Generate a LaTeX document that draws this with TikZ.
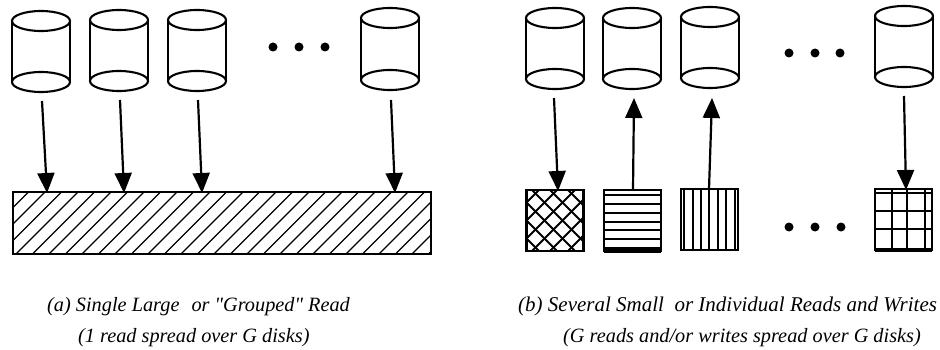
\documentclass[tikz,border=0pt]{standalone}
\usepackage{fontspec}
\setmainfont{Liberation Serif}[Ligatures=TeXOff]
\usetikzlibrary{arrows.meta}
\tikzset{
  x=1pt,y=-1pt,
  diskline/.style={line width=2.1pt,black},
  diskbox/.style={rectangle,inner sep=0pt,outer sep=0pt,minimum width=58pt},
  arr/.style={line width=2.2pt,-{Triangle[length=20pt,width=17pt]},shorten >=-1pt},
  block/.style={draw,line width=2.3pt,rectangle,inner sep=0pt,outer sep=0pt},
  hatch/.style={line width=1.3pt},
  hatchb/.style={line width=1.8pt},
  dot/.style={circle,fill=black,inner sep=0pt,minimum size=9pt},
  capt/.style={font=\itshape\fontsize{20.3}{24}\selectfont,inner sep=0pt,anchor=base west},
  captw/.style={font=\itshape\fontsize{21}{24}\selectfont,inner sep=0pt,anchor=base west},
}
\newcommand{\mydisk}[4]{% name, cx, ytop, ybot
  \node[diskbox,minimum height={#4-#3+20pt}] (#1) at (#2,{(#3+#4)/2}) {};
  \draw[diskline] (#2,#3) ellipse [x radius=29,y radius=10];
  \draw[diskline] (#2,#4) ellipse [x radius=29,y radius=10];
  \draw[diskline] (#2-29,#3) -- (#2-29,#4) (#2+29,#3) -- (#2+29,#4);
}
\begin{document}
\begin{tikzpicture}
\useasboundingbox (0,0) rectangle (940,350);
% hatching
\begin{scope}
  \clip (13,192) rectangle (431,254);
  \foreach \i in {0,...,30}{\draw[hatch] ({\i*16.5-50},254) -- ({\i*16.5+12},192);}
\end{scope}
\begin{scope}
  \clip (527,190) rectangle (583,251);
  \foreach \i in {0,...,7}{
    \draw[hatchb] ({459+\i*18},252) -- ({521+\i*18},190);
    \draw[hatchb] ({460+\i*18},190) -- ({522+\i*18},252);
  }
\end{scope}
\foreach \y in {195,204,213,222,230,239,248}{\draw[hatchb] (604,\y) -- (661,\y);}
\foreach \x in {684,693,701,709,718,726,735}{\draw[hatchb] (\x,189) -- (\x,250);}
\foreach \x in {892,907,925}{\draw[hatchb] (\x,188) -- (\x,250);}
\foreach \y in {193,211,229}{\draw[hatchb] (875,\y) -- (932,\y);}
% disks
\mydisk{a1}{41}{21}{82}
\mydisk{a2}{119}{20}{81}
\mydisk{a3}{197}{20}{81}
\mydisk{a4}{390}{18}{80}
\mydisk{b1}{555}{18}{79}
\mydisk{b2}{632}{18}{79}
\mydisk{b3}{710}{17}{78}
\mydisk{b4}{904}{16}{77}
% blocks
\node[block,minimum width=418pt,minimum height=62pt] (big) at (222,223) {};
\node[block,minimum width=57pt,minimum height=61pt] (s1) at (555,220.5) {};
\node[block,minimum width=57pt,minimum height=61pt] (s2) at (632.5,220.5) {};
\node[block,minimum width=57pt,minimum height=61pt] (s3) at (709.5,219.5) {};
\node[block,minimum width=57pt,minimum height=61pt] (s4) at (903.5,219.5) {};
\draw[line width=3.5pt] (s2.south west) -- (s2.south east);
\draw[line width=3.5pt] (s4.south west) -- (s4.south east);
% arrows
\draw[arr] ([xshift=1pt,yshift=-9pt]a1.south) -- (47,0 |- big.north);
\draw[arr] ([xshift=1pt,yshift=-9pt]a2.south) -- (124,0 |- big.north);
\draw[arr] ([xshift=1pt,yshift=-9pt]a3.south) -- (202,0 |- big.north);
\draw[arr] ([xshift=1pt,yshift=-10pt]a4.south) -- (395,0 |- big.north);
\draw[arr] ([xshift=-1pt,yshift=-9pt]b1.south) -- (558,0 |- s1.north);
\draw[arr] (633,0 |- s2.north) -- (634,99);
\draw[arr] (709,0 |- s3.north) -- (712,99);
\draw[arr] ([xshift=0pt,yshift=-9pt]b4.south) -- (906,0 |- s4.north);
% dots
\foreach \n/\x/\y in {l1/273/47,l2/299/47,l3/325/47,r1/789/53,r2/815/53,r3/840/53,q1/789/227,q2/815/227,q3/841/227}{
  \node[dot] (\n) at (\x,\y) {};
}
% captions
\node[capt] (ca1) at (47,311) {(a) Single Large\hspace{12pt}or "Grouped" Read};
\node[capt] (ca2) at (78,342) {(1 read spread over G disks)};
\node[captw] (cb1) at (518,311) {(b) Several Small\ \ or Individual Reads and Writes};
\node[capt] (cb2) at (563,342) {(G reads and/or writes spread over G disks)};
\end{tikzpicture}
\end{document}
